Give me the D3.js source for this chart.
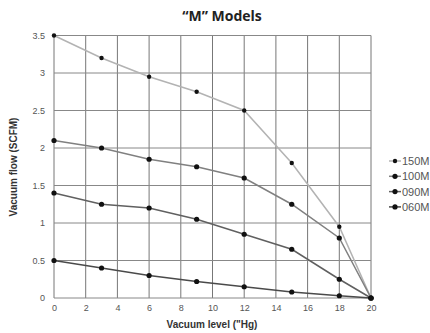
<!DOCTYPE html>
<html><head><meta charset="utf-8">
<script src="https://cdn.jsdelivr.net/npm/d3@7"></script>
<style>body{margin:0;background:#fff}svg{display:block}</style>
</head><body>
<script>
const xValues = [0, 3, 6, 9, 12, 15, 18, 20];
const seriesNames = ["150M", "100M", "090M", "060M"];
const s150M = [3.5, 3.2, 2.95, 2.75, 2.5, 1.8, 0.95, 0];
const s100M = [2.1, 2.0, 1.85, 1.75, 1.6, 1.25, 0.8, 0];
const s090M = [1.4, 1.25, 1.2, 1.05, 0.85, 0.65, 0.25, 0];
const s060M = [0.5, 0.4, 0.3, 0.22, 0.15, 0.08, 0.03, 0];
const xTicks = [0, 2, 4, 6, 8, 10, 12, 14, 16, 18, 20];
const yTicks = [0, 0.5, 1, 1.5, 2, 2.5, 3, 3.5];
const yTickLabels = ["0", "0.5", "1", "1.5", "2", "2.5", "3", "3.5"];

const seriesValues = [s150M, s100M, s090M, s060M];
const colors = ["#b3b3b3", "#808080", "#606060", "#4a4a4a"];
const dotR = [2.2, 2.6, 2.6, 2.6];

const W = 430, H = 333;
const svg = d3.select("body").append("svg").attr("width", W).attr("height", H);
const x = d3.scaleLinear().domain([0, 20]).range([54, 371]);
const y = d3.scaleLinear().domain([0, 3.5]).range([298, 35.5]);

// grid
const g = svg.append("g");
g.selectAll(".vx").data(xTicks).join("line")
  .attr("x1", d => x(d)).attr("x2", d => x(d))
  .attr("y1", y(3.5)).attr("y2", y(0))
  .attr("stroke", "#777").attr("stroke-width", 1);
g.selectAll(".hy").data(yTicks).join("line")
  .attr("x1", x(0)).attr("x2", x(20))
  .attr("y1", d => y(d)).attr("y2", d => y(d))
  .attr("stroke", "#888").attr("stroke-width", 1);

// axes labels via d3 axes
const xAxis = d3.axisBottom(x).tickValues(xTicks).tickSize(0).tickPadding(7);
const xa = svg.append("g").attr("transform", `translate(0,${y(0)})`).call(xAxis);
xa.select(".domain").remove();
xa.selectAll("text").attr("font-family", "Liberation Sans, Arial, sans-serif").attr("font-size", 9).attr("fill", "#555");

const yAxis = d3.axisLeft(y).tickValues(yTicks).tickFormat((d, i) => yTickLabels[i]).tickSize(0).tickPadding(9);
const ya = svg.append("g").attr("transform", `translate(${x(0)},0)`).call(yAxis);
ya.select(".domain").remove();
ya.selectAll("text").attr("font-family", "Liberation Sans, Arial, sans-serif").attr("font-size", 9).attr("fill", "#555");

// lines
const line = d3.line().x((d, i) => x(xValues[i])).y(d => y(d));
seriesValues.forEach((vals, k) => {
  svg.append("path").datum(vals).attr("d", line)
    .attr("fill", "none").attr("stroke", colors[k]).attr("stroke-width", 1.5);
});
seriesValues.forEach((vals, k) => {
  svg.append("g").selectAll("circle").data(vals).join("circle")
    .attr("cx", (d, i) => x(xValues[i])).attr("cy", d => y(d))
    .attr("r", dotR[k]).attr("fill", "#111");
});

// title
svg.append("text").attr("x", 222).attr("y", 21).attr("text-anchor", "middle")
  .attr("font-family", "Open Sans, Lato, sans-serif").attr("font-weight", "bold")
  .attr("font-size", 14).attr("fill", "#222").text("\u201CM\u201D Models");

// axis titles
svg.append("text").attr("x", 212).attr("y", 328).attr("text-anchor", "middle")
  .attr("font-family", "Liberation Sans, Arial, sans-serif").attr("font-weight", "bold")
  .attr("font-size", 10).attr("fill", "#333").text("Vacuum level (\"Hg)");
svg.append("text").attr("transform", "translate(17,167) rotate(-90)").attr("text-anchor", "middle")
  .attr("font-family", "Liberation Sans, Arial, sans-serif").attr("font-weight", "bold")
  .attr("font-size", 10).attr("fill", "#333").text("Vacuum flow (SCFM)");

// legend
const lg = svg.append("g");
seriesNames.forEach((n, k) => {
  const yy = 161 + k * 15.3;
  lg.append("line").attr("x1", 389).attr("x2", 401).attr("y1", yy).attr("y2", yy)
    .attr("stroke", colors[k]).attr("stroke-width", 1.5);
  lg.append("circle").attr("cx", 395).attr("cy", yy).attr("r", dotR[k]).attr("fill", "#111");
  lg.append("text").attr("x", 402).attr("y", yy + 4)
    .attr("font-family", "Liberation Sans, Arial, sans-serif").attr("font-size", 11)
    .attr("fill", "#555").text(n);
});
</script>
</body></html>
